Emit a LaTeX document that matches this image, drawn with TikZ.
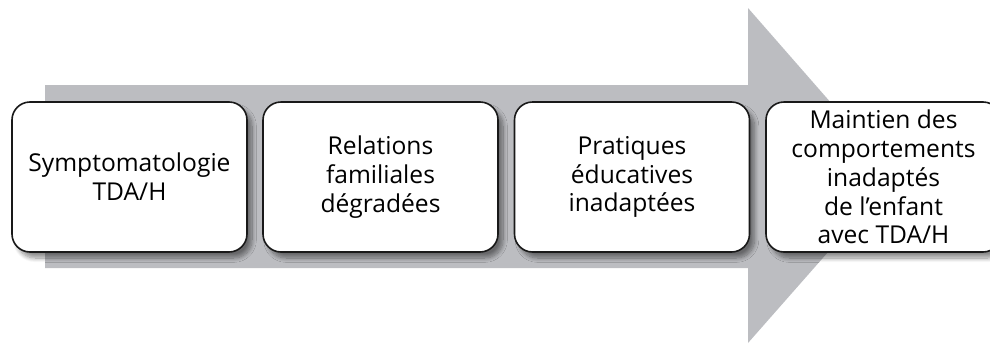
\documentclass[tikz,border=0pt]{standalone}
\usepackage{fontspec}
\setmainfont{Open Sans}
\usetikzlibrary{positioning,shadows.blur}

\definecolor{arrowgray}{RGB}{188,189,193}

\tikzset{
  stage/.style={draw=black!90, line width=.8pt, fill=white, rounded corners=9pt,
    minimum width=117.5pt, minimum height=75pt, inner sep=1pt, align=center,
    font=\fontsize{12.3}{14.4}\selectfont,
    blur shadow={shadow xshift=2.5pt, shadow yshift=-3pt, shadow blur steps=10, shadow opacity=45}},
}

\begin{document}
\begin{tikzpicture}[x=.5pt,y=-.5pt]
 \useasboundingbox (0,0) rectangle (990,343);
 \clip (0,0) rectangle (990,343);
 % big background arrow
 \fill[arrowgray] (45,85)--(748,85)--(748,8)--(895,176)--(748,343)--(748,268)--(45,268)--cycle;
 % the four stages, the last one running off the right edge
 \node[stage] (sympt) at (129.5,177) {Symptomatologie\\TDA/H};
 \node[stage] (relat) at (380.5,177) {Relations\\familiales\\dégradées};
 \node[stage] (prat) at (632,177) {Pratiques\\éducatives\\inadaptées};
 \node[stage, inner sep=0pt] (maint) at (883.5,177) {Maintien des\\comportements\\inadaptés\\de l’enfant\\avec TDA/H};
\end{tikzpicture}
\end{document}
